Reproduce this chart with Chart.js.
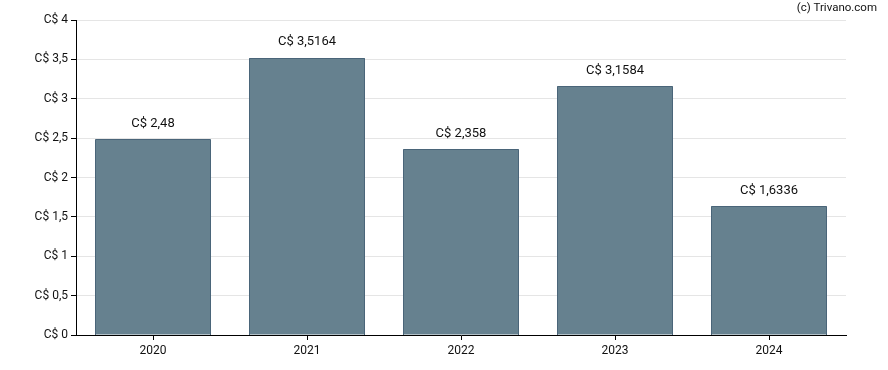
<!DOCTYPE html>
<html>
<head>
<meta charset="utf-8">
<script src="https://cdn.jsdelivr.net/npm/chart.js@4"></script>
<style>
  html, body { margin: 0; padding: 0; background: #fff; }
  #wrap { width: 888px; height: 370px; position: relative; }
</style>
</head>
<body>
<div id="wrap"><canvas id="chart_dividend"></canvas></div>
<script>
var years = ["2020", "2021", "2022", "2023", "2024"];
var dividends = [2.48, 3.5164, 2.358, 3.1584, 1.6336];
var yTicks = [0, 0.5, 1, 1.5, 2, 2.5, 3, 3.5, 4];

function fmt(v) {
  return "C$ " + String(v).replace(".", ",");
}

// crisp bar outlines, labels over the bars + credit line
var labelsPlugin = {
  id: "barLabels",
  afterDatasetsDraw: function (chart) {
    var ctx = chart.ctx;
    ctx.save();
    ctx.strokeStyle = "#4a6579";
    ctx.lineWidth = 1;
    chart.getDatasetMeta(0).data.forEach(function (bar) {
      var l = Math.floor(bar.x - bar.width / 2) + 0.5;
      var r = Math.ceil(bar.x + bar.width / 2) - 0.5;
      var t = Math.floor(bar.y) + 0.5;
      var b = Math.round(bar.base);
      ctx.beginPath();
      ctx.moveTo(l, b);
      ctx.lineTo(l, t);
      ctx.lineTo(r, t);
      ctx.lineTo(r, b);
      ctx.stroke();
    });
    ctx.font = "13px Roboto";
    ctx.fillStyle = "#111";
    ctx.textAlign = "center";
    ctx.textBaseline = "middle";
    chart.getDatasetMeta(0).data.forEach(function (bar, i) {
      ctx.fillText(fmt(dividends[i]), bar.x, bar.y - 16);
    });
    ctx.textAlign = "right";
    ctx.font = "11.5px Roboto";
    ctx.fillText("(c) Trivano.com", 877, 8);
    ctx.restore();
  }
};

var ctx = document.getElementById("chart_dividend").getContext("2d");
var myBarChart = new Chart(ctx, {
  type: "bar",
  data: {
    labels: years,
    datasets: [{
      data: dividends,
      backgroundColor: "#66818f",
      borderWidth: 0,
      barPercentage: 0.75,
      categoryPercentage: 1
    }]
  },
  options: {
    responsive: true,
    maintainAspectRatio: false,
    animation: false,
    layout: { padding: { top: 20, right: 42, left: 0, bottom: 0 } },
    plugins: {
      legend: { display: false },
      tooltip: { enabled: false }
    },
    scales: {
      x: {
        z: 1,
        border: { color: "#000", width: 1 },
        grid: { offset: false, drawOnChartArea: false, drawTicks: true, tickLength: 5, tickColor: "#000" },
        ticks: { color: "#111", font: { family: "Roboto", size: 12 }, padding: 4 },
        afterFit: function (s) { s.height = 35; }
      },
      y: {
        z: 1,
        min: 0,
        max: 4,
        border: { color: "#000", width: 1 },
        grid: { color: "rgba(0,0,0,0.1)", tickColor: "#000", tickLength: 5 },
        afterBuildTicks: function (s) {
          s.ticks = yTicks.map(function (v) { return { value: v }; });
        },
        ticks: {
          color: "#111",
          font: { family: "Roboto", size: 12 },
          padding: 3,
          callback: function (v) { return fmt(v); }
        },
        afterFit: function (s) { s.width = 76; }
      }
    }
  },
  plugins: [labelsPlugin]
});
</script>
</body>
</html>
